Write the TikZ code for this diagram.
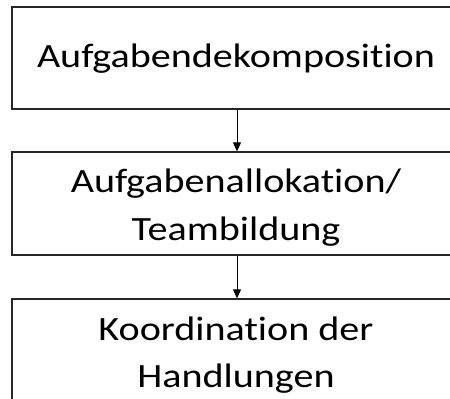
\documentclass[tikz,border=0pt]{standalone}
\usepackage{graphicx}
\usepackage{fontspec}
\setmainfont{Carlito}[Ligatures={NoCommon,NoDiscretionary}]
\usetikzlibrary{arrows.meta}
\newcommand{\widetext}[1]{\scalebox{1.18}[1]{#1}}
\begin{document}
\begin{tikzpicture}[x=1pt,y=-1pt,
  stage/.style={draw=black!85, line width=1.3pt, minimum width=450pt, inner sep=0pt},
  label/.style={anchor=base, font=\fontsize{34}{48}\selectfont, inner sep=0pt},
  flow/.style={draw=black, line width=0.9pt, -{Triangle[width=8pt,length=9pt]}}]
  \useasboundingbox (0,0) rectangle (450,399);
  \clip (0,0) rectangle (450,399);
  % three stacked stages, their right edges run past the page
  \node[stage, minimum height=102pt] (s1) at (237,58) {};
  \node[stage, minimum height=103pt] (s2) at (237,203.5) {};
  \node[stage, minimum height=103pt] (s3) at (237,350.5) {};
  % stage texts, placed on their baselines
  \node[label] (t1) at (236,67) {\widetext{Aufgabendekomposition}};
  \node[label] (t2a) at (236,192) {\widetext{Aufgabenallokation/}};
  \node[label] (t2b) at (236,240) {\widetext{Teambildung}};
  \node[label] (t3a) at (236,340) {\widetext{Koordination der}};
  \node[label] (t3b) at (236,387) {\widetext{Handlungen}};
  % connectors
  \draw[flow] (s1.south) -- (s2.north);
  \draw[flow] (s2.south) -- (s3.north);
\end{tikzpicture}
\end{document}
